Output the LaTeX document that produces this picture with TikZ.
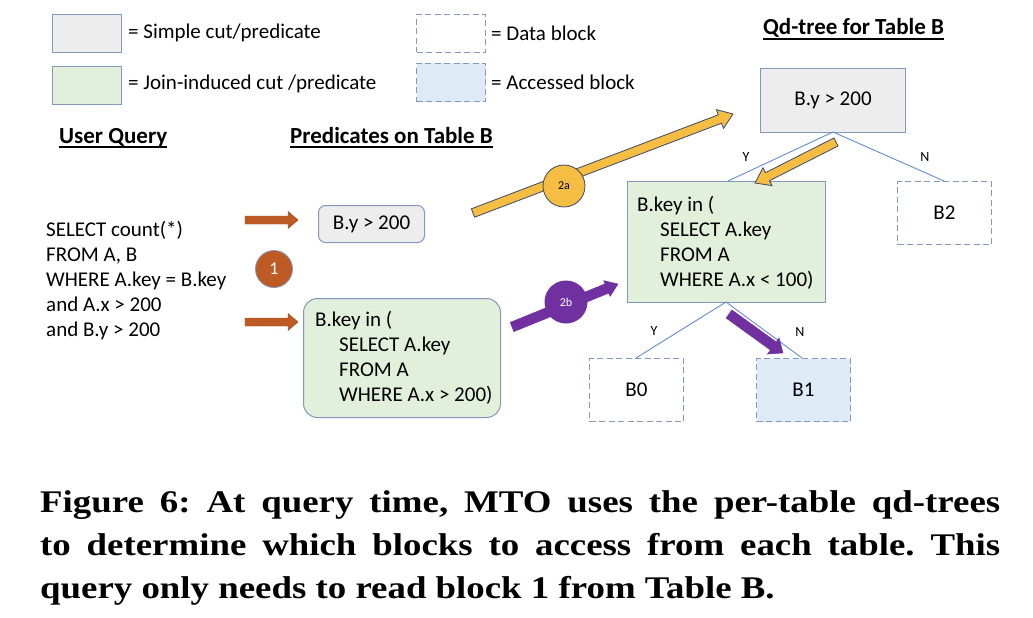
\documentclass[tikz,border=0pt]{standalone}
\usepackage{fontspec}
\setmainfont{Carlito}
\newfontfamily\capfont[FakeStretch=1.17]{Liberation Serif}
\usetikzlibrary{calc}
\definecolor{bord}{RGB}{132,151,190}
\definecolor{grayfill}{RGB}{237,237,237}
\definecolor{greenfill}{RGB}{226,239,218}
\definecolor{bluefill}{RGB}{222,234,246}
\definecolor{brownc}{RGB}{190,91,36}
\definecolor{goldc}{RGB}{245,189,66}
\definecolor{purplec}{RGB}{112,48,160}
\definecolor{treeline}{RGB}{100,140,210}
\definecolor{darkout}{RGB}{60,72,105}
\newcommand\blockarr[6]{% start, end, half shaft, half head, head length, style
  \coordinate (bh) at ($(#2)!#5!(#1)$);
  \path[#6] ($(#1)!#3!90:(#2)$) -- ($(bh)!#3!-90:(#1)$) -- ($(bh)!#4!-90:(#1)$) -- (#2)
    -- ($(bh)!#4!90:(#1)$) -- ($(bh)!#3!90:(#1)$) -- ($(#1)!#3!-90:(#2)$) -- cycle;
}
\tikzset{
  txt/.style={font=\fontsize{21}{25}\selectfont, inner sep=0pt, anchor=west, align=left},
  head/.style={font=\fontsize{23}{27}\selectfont\bfseries, inner sep=0pt, anchor=base west},
  small/.style={font=\fontsize{14}{16}\selectfont, inner sep=0pt},
  simplebox/.style={draw=bord, fill=grayfill, line width=1pt, inner sep=0pt, anchor=north west},
  joinbox/.style={draw=bord, fill=greenfill, line width=1pt, inner sep=0pt, anchor=north west},
  datablock/.style={draw=bord, dash pattern=on 6pt off 3.5pt, line width=1pt, inner sep=0pt, anchor=north west},
  accblock/.style={datablock, fill=bluefill},
  treeedge/.style={draw=treeline, line width=0.9pt},
  brownarr/.style={fill=brownc, draw=brownc!80!black, line width=0.4pt},
  goldarr/.style={fill=goldc, draw=darkout, line width=0.8pt},
  purparr/.style={fill=purplec, draw=purplec, line width=0.4pt},
  caption/.style={font=\capfont\bfseries\fontsize{31.5}{43}\selectfont\frenchspacing, inner sep=0pt, anchor=base west},
}
\begin{document}
\begin{tikzpicture}[x=1pt,y=-1pt]
\useasboundingbox[fill=white] (0,0) rectangle (1033,618);
% legend
\node[simplebox, minimum width=69pt, minimum height=38pt] (lg1) at (52,14) {};
\node[txt] (lt1) at (128,33) {= Simple cut/predicate};
\node[joinbox, minimum width=69pt, minimum height=38pt] (lg2) at (52,66) {};
\node[txt] (lt2) at (128,84) {= Join-induced cut /predicate};
\node[datablock, minimum width=69pt, minimum height=38pt] (lg3) at (416,14) {};
\node[txt] (lt3) at (491,33) {= Data block};
\node[accblock, minimum width=69pt, minimum height=38pt] (lg4) at (416,63) {};
\node[txt] (lt4) at (491,82) {= Accessed block};
% headings
\node[head] (h1) at (59,143) {User Query};
\node[head] (h2) at (290,143) {Predicates on Table B};
\node[head] (h3) at (763,35) {Qd-tree for Table B};
\foreach \h in {h1,h2,h3}{\draw[line width=1.6pt] ([yshift=-4pt]\h.base west) -- ([yshift=-4pt]\h.base east);}
% user query
\node[txt] (q) at (46,281) {SELECT count(*)\\FROM A, B\\WHERE A.key = B.key\\and A.x > 200\\and B.y > 200};
% predicate boxes
\node[simplebox, rounded corners=7pt, minimum width=106pt, minimum height=37pt] (p1) at (318,205) {};
\node[txt, anchor=center] (p1t) at (p1.center) {B.y > 200};
\node[joinbox, rounded corners=14pt, minimum width=197pt, minimum height=119pt] (p2) at (303,298) {};
\node[txt] (p2t) at (315,358) {B.key in (\\\hspace*{24pt}SELECT A.key\\\hspace*{24pt}FROM A\\\hspace*{24pt}WHERE A.x > 200)};
% brown arrows and circle 1
\coordinate (ba1s) at (245,220); \coordinate (ba1e) at (298,220);
\coordinate (ba2s) at (245,322); \coordinate (ba2e) at (298,322);
\blockarr{ba1s}{ba1e}{4pt}{8.5pt}{10pt}{brownarr}
\blockarr{ba2s}{ba2e}{4pt}{8.5pt}{10pt}{brownarr}
\node[circle, fill=brownc, draw=bord, line width=0.8pt, minimum size=37pt, inner sep=0pt, text=white, font=\fontsize{18}{20}\selectfont] (c1) at (274,269) {1};
% tree
\node[simplebox, minimum width=145pt, minimum height=64pt] (root) at (760,68) {};
\node[txt, anchor=center] (roott) at (root.center) {B.y > 200};
\node[joinbox, minimum width=198pt, minimum height=121pt] (jb) at (627,181) {};
\node[txt] (jbt) at (637,243) {B.key in (\\\hspace*{23pt}SELECT A.key\\\hspace*{23pt}FROM A\\\hspace*{23pt}WHERE A.x < 100)};
\node[datablock, minimum width=94pt, minimum height=63pt] (b2) at (897,181) {};
\node[txt, anchor=center] at (b2.center) {B2};
\node[datablock, minimum width=94pt, minimum height=63pt] (b0) at (589,358) {};
\node[txt, anchor=center] at (b0.center) {B0};
\node[accblock, minimum width=94pt, minimum height=63pt] (b1) at (756,358) {};
\node[txt, anchor=center] at (b1.center) {B1};
\coordinate (jtop) at (728,181);
\coordinate (b2top) at (944,181);
\coordinate (jbot) at (726,302);
\coordinate (b0top) at (636,358);
\coordinate (b1top) at (802,358);
\coordinate (rbot) at (833,132);
\draw[treeedge] (jtop) -- (rbot) -- (b2top);
\draw[treeedge] (b0top) -- (jbot) -- (b1top);
\node[small] (y1) at (746,157) {Y};
\node[small] (n1) at (925,157) {N};
\node[small] (y2) at (654,331) {Y};
\node[small] (n2) at (800,332) {N};
% gold arrows
\coordinate (g1s) at (473,213); \coordinate (g1e) at (733,114);
\blockarr{g1s}{g1e}{4.5pt}{10pt}{14pt}{goldarr}
\node[circle, fill=goldc, draw=darkout, line width=0.8pt, minimum size=42pt, inner sep=0pt, font=\fontsize{12}{14}\selectfont] (c2a) at (564,186) {2a};
\coordinate (g2s) at (836,142); \coordinate (g2e) at (755,183);
\blockarr{g2s}{g2e}{4.5pt}{10pt}{14pt}{goldarr}
% purple arrows
\coordinate (p2s) at (512,327); \coordinate (p2e) at (618,284);
\blockarr{p2s}{p2e}{5pt}{8.5pt}{12pt}{purparr}
\node[circle, fill=purplec, minimum size=43pt, inner sep=0pt, text=white, font=\fontsize{12}{14}\selectfont] (c2b) at (566,302) {2b};
\coordinate (p3s) at (729,314); \coordinate (p3e) at (783,353);
\blockarr{p3s}{p3e}{5pt}{10pt}{12pt}{purparr}
% caption
\node[caption] (cap1) at (40,512) {\makebox[960pt][s]{Figure 6: At query time, MTO uses the per-table qd-trees}};
\node[caption] (cap2) at (40,555) {\makebox[960pt][s]{to determine which blocks to access from each table. This}};
\node[caption] (cap3) at (40,598) {query only needs to read block 1 from Table B.};
\end{tikzpicture}
\end{document}
